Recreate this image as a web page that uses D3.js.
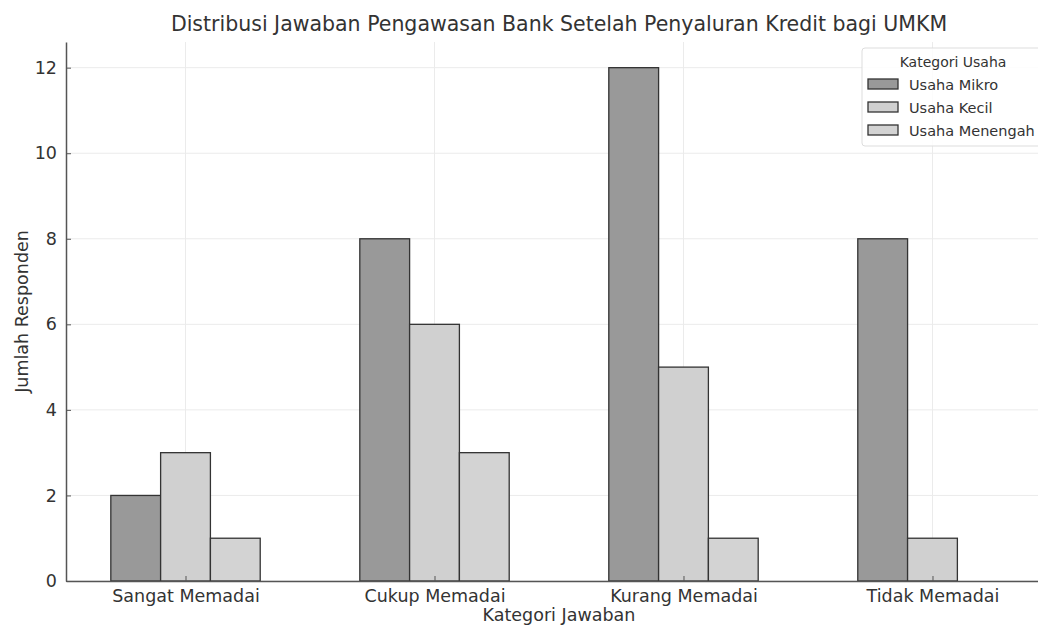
<!DOCTYPE html>
<html>
<head>
<meta charset="utf-8">
<script src="https://cdn.jsdelivr.net/npm/d3@7"></script>
<style>
  html, body { margin: 0; padding: 0; background: #fff; }
  svg { display: block; font-family: "DejaVu Sans", sans-serif; }
</style>
</head>
<body>
<svg id="chart" width="1038" height="626"></svg>
<script>
// Survey answers per response category, split by business size
const categories = ["Sangat Memadai", "Cukup Memadai", "Kurang Memadai", "Tidak Memadai"];
const seriesNames = ["Usaha Mikro", "Usaha Kecil", "Usaha Menengah"];
const usahaMikro = [2, 8, 12, 8];
const usahaKecil = [3, 6, 5, 1];
const usahaMenengah = [1, 3, 1, 0];
const yTicks = [0, 2, 4, 6, 8, 10, 12];

const seriesValues = [usahaMikro, usahaKecil, usahaMenengah];
const fills = ["#999999", "#d0d0d0", "#d3d3d3"];

const svg = d3.select("#chart");
const margin = { left: 66, right: 1052, top: 42, bottom: 581 };

const barWidth = 0.2;
// numeric x scale over category index, with 5% margins on each side
const xMin = -0.3, xMax = categories.length - 1 + 0.3;
const pad = (xMax - xMin) * 0.05;
const x = d3.scaleLinear().domain([xMin - pad, xMax + pad]).range([margin.left, margin.right]);
const y = d3.scaleLinear().domain([0, 12.6]).range([margin.bottom, margin.top]);

// grid
const grid = svg.append("g");
grid.selectAll("line.h").data(yTicks).join("line")
  .attr("x1", margin.left).attr("x2", margin.right)
  .attr("y1", d => y(d)).attr("y2", d => y(d))
  .attr("stroke", "#ebebeb").attr("stroke-width", 1);
grid.selectAll("line.v").data(categories).join("line")
  .attr("x1", (d, i) => x(i)).attr("x2", (d, i) => x(i))
  .attr("y1", margin.top).attr("y2", margin.bottom)
  .attr("stroke", "#ebebeb").attr("stroke-width", 1);

// bars
seriesValues.forEach((vals, s) => {
  svg.append("g").selectAll("rect").data(vals).join("rect")
    .attr("x", (d, i) => x(i + (s - 1) * barWidth - barWidth / 2))
    .attr("width", x(barWidth) - x(0))
    .attr("y", d => y(d))
    .attr("height", d => y(0) - y(d))
    .attr("fill", fills[s])
    .attr("stroke", d => d > 0 ? "#333" : "none")
    .attr("stroke-width", 1.3);
});

// axes with inward ticks
const xAxis = d3.axisBottom(x).tickValues(d3.range(categories.length))
  .tickFormat(i => categories[i]).tickSizeInner(-5).tickSizeOuter(0).tickPadding(9);
const gx = svg.append("g").attr("transform", `translate(0,${margin.bottom})`).call(xAxis);
const yAxis = d3.axisLeft(y).tickValues(yTicks).tickFormat(d3.format("d"))
  .tickSizeInner(-5).tickSizeOuter(0).tickPadding(9);
const gy = svg.append("g").attr("transform", `translate(${margin.left},0)`).call(yAxis);

[gx, gy].forEach(g => {
  g.select(".domain").attr("stroke", "#555").attr("stroke-width", 1.5);
  g.selectAll(".tick line").attr("stroke", "#555");
  g.selectAll(".tick text").attr("fill", "#333").style("font-size", "17.5px")
    .style("font-family", "DejaVu Sans, sans-serif");
});

// title and axis labels
svg.append("text").attr("x", (margin.left + margin.right) / 2).attr("y", 31)
  .attr("text-anchor", "middle").attr("fill", "#333").style("font-size", "20.5px")
  .text("Distribusi Jawaban Pengawasan Bank Setelah Penyaluran Kredit bagi UMKM");
svg.append("text").attr("x", (margin.left + margin.right) / 2).attr("y", 621)
  .attr("text-anchor", "middle").attr("fill", "#333").style("font-size", "17.5px")
  .text("Kategori Jawaban");
svg.append("text").attr("transform", `translate(28,${(margin.top + margin.bottom) / 2}) rotate(-90)`)
  .attr("text-anchor", "middle").attr("fill", "#333").style("font-size", "17.5px")
  .text("Jumlah Responden");

// legend
const lg = svg.append("g").attr("transform", "translate(862,48)");
lg.append("rect").attr("width", 200).attr("height", 98).attr("rx", 3)
  .attr("fill", "#fff").attr("fill-opacity", 0.85).attr("stroke", "#dddddd");
lg.append("text").attr("x", 91).attr("y", 19).attr("text-anchor", "middle")
  .attr("fill", "#333").style("font-size", "14px").text("Kategori Usaha");
seriesNames.forEach((name, s) => {
  const row = lg.append("g").attr("transform", `translate(6,${31 + s * 23})`);
  row.append("rect").attr("width", 30).attr("height", 10)
    .attr("fill", fills[s]).attr("stroke", "#333").attr("stroke-width", 1.3);
  row.append("text").attr("x", 41).attr("y", 10.5).attr("fill", "#333")
    .style("font-size", "14.5px").text(name);
});
</script>
</body>
</html>
